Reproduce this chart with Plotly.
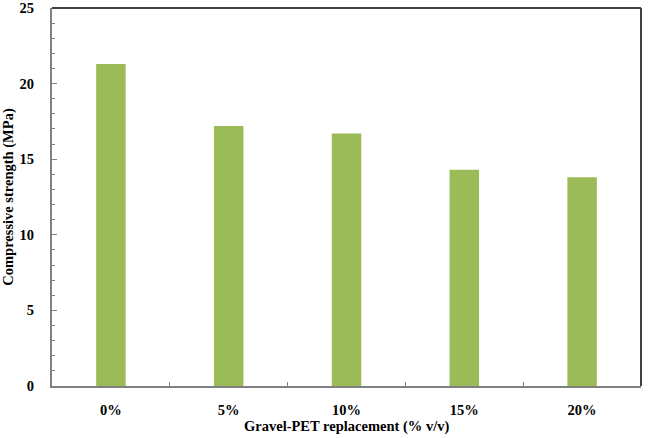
import plotly.graph_objects as go

categories = ["0%", "5%", "10%", "15%", "20%"]
strength = [21.3, 17.2, 16.7, 14.3, 13.8]
y_ticks = [0, 5, 10, 15, 20, 25]

font_family = "Liberation Serif"
fs = 14.5

fig = go.Figure()
fig.add_trace(go.Bar(
    x=categories, y=strength, width=0.25,
    marker=dict(color="#9BBB59", line=dict(width=0)),
))

fig.update_layout(
    width=649, height=438,
    margin=dict(l=52, r=8, t=8, b=52),
    paper_bgcolor="white", plot_bgcolor="white",
    showlegend=False,
    font=dict(family=font_family, color="black", size=fs),
    xaxis=dict(
        automargin=False,
        showline=True, linecolor="#808080", linewidth=2,
        ticks="inside", tickson="boundaries", ticklen=4, tickcolor="#808080",
        tickfont=dict(family=font_family, size=fs, weight="bold"),
        ticklabelstandoff=10,
        showgrid=False,
    ),
    yaxis=dict(
        automargin=False,
        range=[0, 25], tickvals=y_ticks,
        showline=True, linecolor="#808080", linewidth=2,
        ticks="inside", ticklen=5, tickcolor="#808080",
        minor=dict(ticks="inside", dtick=1, ticklen=3, tickcolor="#808080"),
        tickfont=dict(family=font_family, size=fs, weight="bold"),
        ticklabelstandoff=13,
        title=dict(text="Compressive strength (MPa)",
                   font=dict(family=font_family, size=fs, weight="bold"), standoff=10),
        showgrid=False, zeroline=False,
    ),
    bargap=0.75,
)

fig.add_annotation(text="Gravel-PET replacement (% v/v)", xref="paper", yref="paper",
                   x=0.5, y=-0.108, xanchor="center", yanchor="middle", showarrow=False,
                   font=dict(family=font_family, size=fs, weight="bold", color="black"))

# top and right frame lines
fig.add_shape(type="line", xref="paper", yref="paper", x0=0, x1=1, y0=1, y1=1,
              line=dict(color="#404040", width=2))
fig.add_shape(type="line", xref="paper", yref="paper", x0=1, x1=1, y0=0, y1=1,
              line=dict(color="#404040", width=2))

fig.write_html("out.html")
